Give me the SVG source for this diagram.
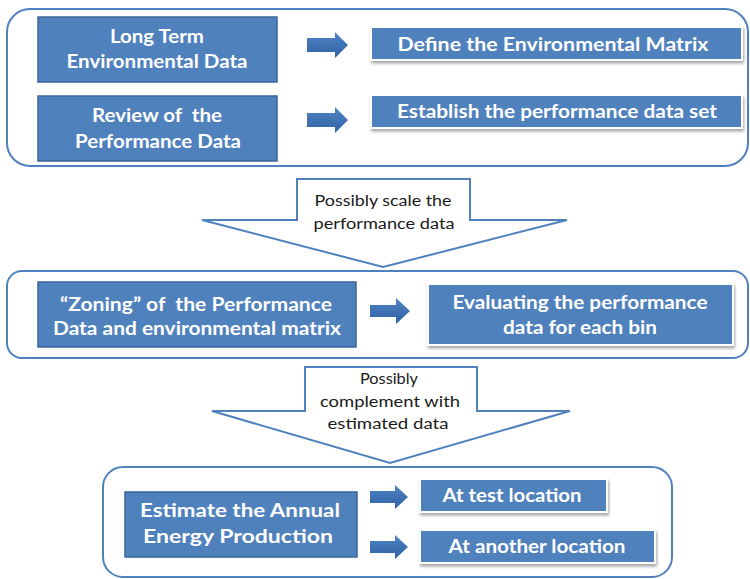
<svg xmlns="http://www.w3.org/2000/svg" width="750" height="579" viewBox="0 0 750 579">
  <defs>
    <style>
      .container { fill: #ffffff; stroke: #4f81bd; stroke-width: 2; }
      .boxL { fill: #4f81bd; stroke: #3a659b; stroke-width: 1.5; }
      .boxR { fill: #4f81bd; stroke: #ffffff; stroke-width: 2; filter: url(#shadow); }
      .blk { fill: url(#arrowGrad); }
      .bigArrow { fill: #ffffff; stroke: #4f81bd; stroke-width: 2; stroke-linejoin: miter; }
      .t { font-family: "Lato", "Liberation Sans", sans-serif; font-weight: bold; font-size: 18px; fill: #ffffff; text-anchor: middle; white-space: pre; }
      .n { font-family: "Lato", "Liberation Sans", sans-serif; font-size: 14.5px; fill: #1a1a1a; text-anchor: middle; }
    </style>
    <linearGradient id="arrowGrad" x1="0" y1="0" x2="0" y2="1">
      <stop offset="0" stop-color="#4f84c4"/>
      <stop offset="1" stop-color="#2f62a3"/>
    </linearGradient>
    <filter id="shadow" x="-10%" y="-20%" width="120%" height="160%">
      <feDropShadow dx="1" dy="2.5" stdDeviation="1.5" flood-color="#000000" flood-opacity="0.35"/>
    </filter>
  </defs>

  <rect width="750" height="579" fill="#ffffff"/>

  <!-- containers -->
  <g id="container-top"><rect class="container" x="7" y="9" width="741" height="157" rx="23" ry="23"/></g>
  <g id="container-middle"><rect class="container" x="7" y="271" width="741" height="87" rx="15" ry="15"/></g>
  <g id="container-bottom"><rect class="container" x="103" y="467" width="569" height="110" rx="20" ry="20"/></g>

  <!-- nodes -->
  <g id="long-term">
    <rect class="boxL" x="38" y="17" width="239" height="65"/>
    <text class="t" x="157" y="43" textLength="94" lengthAdjust="spacingAndGlyphs">Long Term</text>
    <text class="t" x="157" y="68" textLength="181" lengthAdjust="spacingAndGlyphs">Environmental Data</text>
  </g>
  <g id="review">
    <rect class="boxL" x="38" y="96" width="239" height="65"/>
    <text class="t" x="157" y="122" textLength="130" lengthAdjust="spacingAndGlyphs" xml:space="preserve">Review of  the</text>
    <text class="t" x="158" y="148" textLength="166" lengthAdjust="spacingAndGlyphs">Performance Data</text>
  </g>
  <g id="define">
    <rect class="boxR" x="371" y="27" width="371" height="33"/>
    <text class="t" x="553" y="51" textLength="311" lengthAdjust="spacingAndGlyphs">Define the Environmental Matrix</text>
  </g>
  <g id="establish">
    <rect class="boxR" x="371" y="95" width="371" height="33"/>
    <text class="t" x="557" y="118" textLength="320" lengthAdjust="spacingAndGlyphs">Establish the performance data set</text>
  </g>
  <g id="zoning">
    <rect class="boxL" x="38" y="282" width="318" height="65"/>
    <text class="t" x="196" y="311" textLength="272" lengthAdjust="spacingAndGlyphs" xml:space="preserve">“Zoning” of  the Performance</text>
    <text class="t" x="197" y="335" textLength="288" lengthAdjust="spacingAndGlyphs">Data and environmental matrix</text>
  </g>
  <g id="evaluating">
    <rect class="boxR" x="428" y="284" width="305" height="61"/>
    <text class="t" x="580" y="309" textLength="255" lengthAdjust="spacingAndGlyphs">Evaluating the performance</text>
    <text class="t" x="580" y="334" textLength="154" lengthAdjust="spacingAndGlyphs">data for each bin</text>
  </g>
  <g id="estimate">
    <rect class="boxL" x="125" y="492" width="232" height="65"/>
    <text class="t" x="240" y="517" textLength="200" lengthAdjust="spacingAndGlyphs">Estimate the Annual</text>
    <text class="t" x="238" y="543" textLength="190" lengthAdjust="spacingAndGlyphs">Energy Production</text>
  </g>
  <g id="test-location">
    <rect class="boxR" x="420" y="479" width="187" height="33"/>
    <text class="t" x="512" y="502" textLength="139" lengthAdjust="spacingAndGlyphs">At test location</text>
  </g>
  <g id="another-location">
    <rect class="boxR" x="420" y="530" width="235" height="33"/>
    <text class="t" x="537" y="553" textLength="177" lengthAdjust="spacingAndGlyphs">At another location</text>
  </g>

  <!-- big step arrows -->
  <g id="scale-step">
    <polygon class="bigArrow" points="297,179 470,179 470,220 567,220 383,267 202,220 297,220"/>
    <text class="n" x="383" y="206" textLength="137" lengthAdjust="spacingAndGlyphs">Possibly scale the</text>
    <text class="n" x="384" y="229" textLength="141" lengthAdjust="spacingAndGlyphs">performance data</text>
  </g>
  <g id="complement-step">
    <polygon class="bigArrow" points="305,367 477,367 477,411 570,411 390,463 212,411 305,411"/>
    <text class="n" x="389" y="384" textLength="58" lengthAdjust="spacingAndGlyphs">Possibly</text>
    <text class="n" x="390" y="407" textLength="140" lengthAdjust="spacingAndGlyphs">complement with</text>
    <text class="n" x="388" y="429" textLength="121" lengthAdjust="spacingAndGlyphs">estimated data</text>
  </g>

  <!-- connectors -->
  <g id="connectors">
    <polygon class="blk" points="307,38 335,38 335,32 348,45 335,58 335,52 307,52"/>
    <polygon class="blk" points="307,113 335,113 335,107 348,120 335,133 335,127 307,127"/>
    <polygon class="blk" points="370,305 396,305 396,298 410,311 396,324 396,317 370,317"/>
    <polygon class="blk" points="370,491 395,491 395,485 408,497 395,509 395,503 370,503"/>
    <polygon class="blk" points="370,541 395,541 395,535 408,547 395,559 395,553 370,553"/>
  </g>
</svg>
